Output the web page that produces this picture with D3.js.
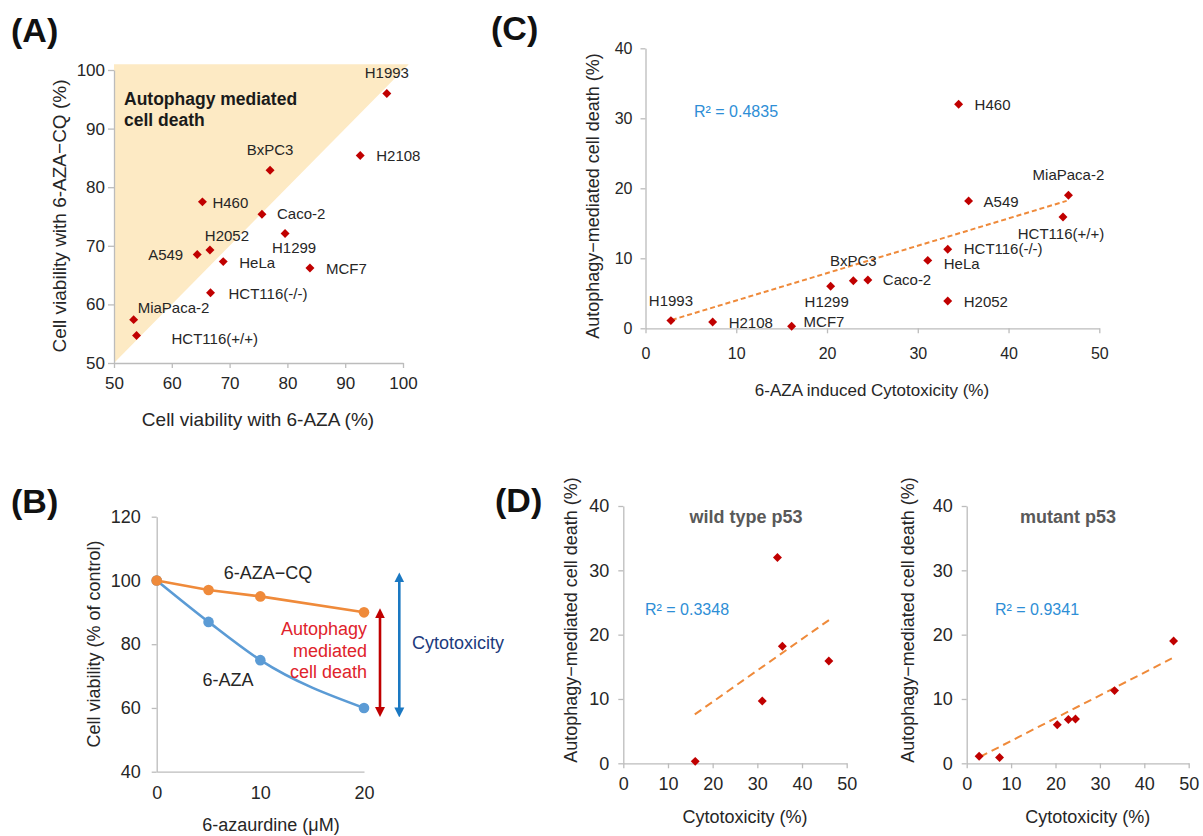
<!DOCTYPE html>
<html>
<head>
<meta charset="utf-8">
<script src="https://cdn.jsdelivr.net/npm/d3@7"></script>
<style>body{margin:0;background:#fff}</style>
</head>
<body>
<div id="fig"></div>
<script>
// ---- data ----
// (A) viability of each line with 6-AZA alone and with 6-AZA + CQ
var cellsA = ["H1993","H2108","BxPC3","H460","Caco-2","H1299","H2052","A549","HeLa","MCF7","HCT116(-/-)","MiaPaca-2","HCT116(+/+)"];
var viabAZA   = [97.2, 92.6, 77.0, 65.3, 75.6, 79.6, 66.6, 64.4, 68.9, 83.9, 66.7, 53.4, 53.9];
var viabAZACQ = [96.0, 85.4, 82.9, 77.5, 75.4, 72.1, 69.3, 68.5, 67.3, 66.2, 62.0, 57.4, 54.7];
var ticksA = [50, 60, 70, 80, 90, 100];

// (B) dose response
var doses = [0, 5, 10, 20];
var curveAZACQ = [100, 97, 95, 90];
var curveAZA   = [100, 87, 75, 60];
var ticksBx = [0, 10, 20];
var ticksBy = [40, 60, 80, 100, 120];

// (C) cytotoxicity vs autophagy-mediated death
var cellsC = ["H1993","H2108","MCF7","H1299","BxPC3","Caco-2","HeLa","HCT116(-/-)","H2052","A549","MiaPaca-2","HCT116(+/+)","H460"];
var cytotox   = [2.8, 7.4, 16.1, 20.4, 22.9, 24.5, 31.1, 33.3, 33.3, 35.6, 46.6, 46.0, 34.5];
var autoDeath = [1.1, 0.9, 0.3, 6.0, 6.8, 6.9, 9.7, 11.3, 3.9, 18.2, 19.0, 15.9, 32.0];
var trendCx = [2.9, 46.4];
var trendCy = [1.2, 18.2];
var r2C = "R² = 0.4835";
var ticksCx = [0, 10, 20, 30, 40, 50];
var ticksCy = [0, 10, 20, 30, 40];

// (D) split by p53 status
var wildType = ["MCF7","H460","A549","HeLa","HCT116(+/+)"];
var mutant   = ["H1993","H2108","H1299","BxPC3","Caco-2","HCT116(-/-)","MiaPaca-2"];
var trendWTx = [16.0, 46.1], trendWTy = [7.6, 22.3];
var trendMutx = [3.0, 46.2], trendMuty = [1.0, 16.3];
var r2WT = "R² = 0.3348", r2Mut = "R² = 0.9341";

// ---- styles / layout ----
var FONT = "'Liberation Sans', Arial, sans-serif";
var GREY = "#bcbcbc", TXT = "#262626", RED = "#c00000";
var ORANGE = "#ef8a3a", BLUE = "#5b9bd5", R2BLUE = "#2e8ed6";

// label placement: [dx, dy, anchor]
var labA = {
  "H1993":[0,-15,"middle"], "H2108":[16,5,"start"], "BxPC3":[0,-15,"middle"],
  "H460":[10,6,"start"], "Caco-2":[15,5,"start"], "H1299":[9,20,"middle"],
  "H2052":[17,-9,"middle"], "A549":[-14,5,"end"], "HeLa":[16,6,"start"],
  "MCF7":[16,6,"start"], "HCT116(-/-)":[18,6,"start"], "MiaPaca-2":[4,-7,"start"],
  "HCT116(+/+)":[35,9,"start"]
};
var labC = {
  "H1993":[0,-15,"middle"], "H2108":[16,6,"start"], "MCF7":[12,1,"start"],
  "H1299":[-4,21,"middle"], "BxPC3":[0,-15,"middle"], "Caco-2":[15,5,"start"],
  "HeLa":[16,9,"start"], "HCT116(-/-)":[16,5,"start"], "H2052":[16,6,"start"],
  "A549":[15,6,"start"], "MiaPaca-2":[0,-15,"middle"], "HCT116(+/+)":[-2,22,"middle"],
  "H460":[16,6,"start"]
};

var svg = d3.select("#fig").append("svg")
  .attr("width", 1203).attr("height", 836)
  .style("font-family", FONT);

svg.append("rect").attr("width", 1203).attr("height", 836).attr("fill", "#fff");

function styleAxis(g, fs) {
  g.attr("font-family", FONT).attr("font-size", fs);
  g.select(".domain").attr("stroke", GREY).attr("stroke-width", 1.3);
  g.selectAll(".tick line").attr("stroke", GREY).attr("stroke-width", 1.3);
  g.selectAll(".tick text").attr("fill", TXT);
}

function diamonds(g, xs, ys, x, y) {
  g.selectAll(null).data(xs).enter().append("path")
    .attr("d", d3.symbol().type(d3.symbolSquare).size(40))
    .attr("fill", RED)
    .attr("transform", function(d, i) {
      return "translate(" + x(d) + "," + y(ys[i]) + ") rotate(45)";
    });
}

function text(x, y, s, size, opts) {
  opts = opts || {};
  var t = svg.append("text").attr("x", x).attr("y", y).text(s)
    .attr("font-size", size).attr("fill", opts.fill || TXT)
    .attr("text-anchor", opts.anchor || "start");
  if (opts.bold) t.attr("font-weight", "bold");
  if (opts.rotate) t.attr("transform", "rotate(-90," + x + "," + y + ")");
  return t;
}

// panel letters
text(11, 42, "(A)", 34, {bold: true, fill: "#111"});
text(491, 40, "(C)", 34, {bold: true, fill: "#111"});
text(11, 513, "(B)", 34, {bold: true, fill: "#111"});
text(495, 512, "(D)", 34, {bold: true, fill: "#111"});

// ======== (A) ========
var xA = d3.scaleLinear().domain([50, 100]).range([114, 403]);
var yA = d3.scaleLinear().domain([50, 100]).range([363, 70]);
var gA = svg.append("g");

// shaded region above the identity line
var lo = xA.domain()[0], hi = xA.domain()[1] + 1;
gA.append("path")
  .attr("d", d3.line()([[xA(lo), yA(lo)], [xA(lo), yA(hi)], [xA(hi), yA(hi)]]) + "Z")
  .attr("fill", "#fdeac4");

gA.append("g").attr("transform", "translate(0,363)")
  .call(d3.axisBottom(xA).tickValues(ticksA).tickSize(5).tickSizeOuter(0).tickPadding(9))
  .call(styleAxis, 17);
gA.append("g").attr("transform", "translate(114,0)")
  .call(d3.axisLeft(yA).tickValues(ticksA).tickSize(6).tickSizeOuter(0).tickPadding(3))
  .call(styleAxis, 17);

text(124, 105, "Autophagy mediated", 17.5, {bold: true, fill: "#1a1a1a"});
text(124, 126, "cell death", 17.5, {bold: true, fill: "#1a1a1a"});

diamonds(gA, viabAZA, viabAZACQ, xA, yA);
cellsA.forEach(function(c, i) {
  var p = labA[c];
  text(xA(viabAZA[i]) + p[0], yA(viabAZACQ[i]) + p[1], c, 15, {anchor: p[2]});
});

text(258, 426, "Cell viability with 6-AZA (%)", 19, {anchor: "middle"});
text(66, 216, "Cell viability with 6-AZA\u2212CQ (%)", 19, {anchor: "middle", rotate: true});

// ======== (B) ========
var xB = d3.scaleLinear().domain([0, 20]).range([156.7, 364]);
var yB = d3.scaleLinear().domain([40, 120]).range([771.7, 516.7]);
var gB = svg.append("g");

gB.append("g").attr("transform", "translate(0,771.7)")
  .call(d3.axisBottom(xB).tickValues(ticksBx).tickSize(0).tickPadding(15))
  .call(styleAxis, 18);
gB.append("g").attr("transform", "translate(156.7,0)")
  .call(d3.axisLeft(yB).tickValues(ticksBy).tickSize(5).tickSizeOuter(0).tickPadding(11))
  .call(styleAxis, 18);

var seriesB = [
  {vals: curveAZA, color: BLUE, curve: d3.curveMonotoneX},
  {vals: curveAZACQ, color: ORANGE, curve: d3.curveLinear}
];
seriesB.forEach(function(s) {
  gB.append("path")
    .attr("d", d3.line().curve(s.curve)
      .x(function(d, i) { return xB(doses[i]); })
      .y(function(d) { return yB(d); })(s.vals))
    .attr("fill", "none").attr("stroke", s.color).attr("stroke-width", 2.6);
  gB.selectAll(null).data(s.vals).enter().append("circle")
    .attr("cx", function(d, i) { return xB(doses[i]); })
    .attr("cy", function(d) { return yB(d); })
    .attr("r", 5.3).attr("fill", s.color);
});

text(268, 579, "6-AZA\u2212CQ", 18, {anchor: "middle"});
text(228, 686, "6-AZA", 18, {anchor: "middle"});

// arrows
var defs = svg.append("defs");
[["arRed", RED], ["arBlue", "#1a78c2"]].forEach(function(m) {
  defs.append("marker").attr("id", m[0])
    .attr("viewBox", "0 0 10 10").attr("refX", 6).attr("refY", 5)
    .attr("markerUnits", "userSpaceOnUse")
    .attr("markerWidth", 10).attr("markerHeight", 11)
    .attr("orient", "auto-start-reverse")
    .append("path").attr("d", "M0,0L10,5L0,10Z").attr("fill", m[1]);
});
var last = doses.length - 1;
gB.append("line")
  .attr("x1", 380).attr("x2", 380)
  .attr("y1", yB(curveAZACQ[last]) + 0).attr("y2", yB(curveAZA[last]) + 5)
  .attr("stroke", RED).attr("stroke-width", 2.6)
  .attr("marker-start", "url(#arRed)").attr("marker-end", "url(#arRed)");
gB.append("line")
  .attr("x1", 399.3).attr("x2", 399.3)
  .attr("y1", yB(curveAZA[0]) - 4).attr("y2", yB(curveAZA[last]) + 5.5)
  .attr("stroke", "#1a78c2").attr("stroke-width", 2.6)
  .attr("marker-start", "url(#arBlue)").attr("marker-end", "url(#arBlue)");

text(367, 635, "Autophagy", 18, {anchor: "end", fill: "#e0232b"});
text(367, 656.5, "mediated", 18, {anchor: "end", fill: "#e0232b"});
text(367, 678, "cell death", 18, {anchor: "end", fill: "#e0232b"});
text(412, 649, "Cytotoxicity", 18, {fill: "#203a7c"});

text(100, 644, "Cell viability (% of control)", 18, {anchor: "middle", rotate: true});
text(271, 831, "6-azaurdine (\u03bcM)", 18, {anchor: "middle"});

// ======== (C) ========
var xC = d3.scaleLinear().domain([0, 50]).range([645.5, 1099.3]);
var yC = d3.scaleLinear().domain([0, 40]).range([328.3, 48.3]);
var gC = svg.append("g");

gC.append("g").attr("transform", "translate(0,328.3)")
  .call(d3.axisBottom(xC).tickValues(ticksCx).tickSize(5).tickSizeOuter(0).tickPadding(14))
  .call(styleAxis, 16);
gC.append("g").attr("transform", "translate(645.5,0)")
  .call(d3.axisLeft(yC).tickValues(ticksCy).tickSize(5).tickSizeOuter(0).tickPadding(8))
  .call(styleAxis, 16);

gC.append("line")
  .attr("x1", xC(trendCx[0])).attr("y1", yC(trendCy[0]))
  .attr("x2", xC(trendCx[1])).attr("y2", yC(trendCy[1]))
  .attr("stroke", ORANGE).attr("stroke-width", 2).attr("stroke-dasharray", "5,3");

diamonds(gC, cytotox, autoDeath, xC, yC);
cellsC.forEach(function(c, i) {
  var p = labC[c];
  text(xC(cytotox[i]) + p[0], yC(autoDeath[i]) + p[1], c, 15, {anchor: p[2]});
});

text(694, 117, r2C, 16, {fill: R2BLUE});
text(872, 396, "6-AZA induced Cytotoxicity (%)", 17, {anchor: "middle"});
text(599, 196, "Autophagy\u2212mediated cell death (%)", 18, {anchor: "middle", rotate: true});

// ======== (D) ========
function lookup(names) {
  return {
    x: names.map(function(n) { return cytotox[cellsC.indexOf(n)]; }),
    y: names.map(function(n) { return autoDeath[cellsC.indexOf(n)]; })
  };
}

var panelsD = [
  {x0: 623.3, x1: 846.7, names: wildType, tx: trendWTx, ty: trendWTy, r2: r2WT, r2x: 645, title: "wild type p53", titleX: 746, ylab: 577},
  {x0: 966.7, x1: 1188.7, names: mutant, tx: trendMutx, ty: trendMuty, r2: r2Mut, r2x: 995, title: "mutant p53", titleX: 1068, ylab: 914}
];

panelsD.forEach(function(p) {
  var x = d3.scaleLinear().domain([0, 50]).range([p.x0, p.x1]);
  var y = d3.scaleLinear().domain([0, 40]).range([763.3, 506]);
  var g = svg.append("g");
  g.append("g").attr("transform", "translate(0,763.3)")
    .call(d3.axisBottom(x).tickValues(ticksCx).tickSize(5).tickSizeOuter(0).tickPadding(9))
    .call(styleAxis, 18);
  g.append("g").attr("transform", "translate(" + p.x0 + ",0)")
    .call(d3.axisLeft(y).tickValues(ticksCy).tickSize(5).tickSizeOuter(0).tickPadding(9))
    .call(styleAxis, 18);

  g.append("line")
    .attr("x1", x(p.tx[0])).attr("y1", y(p.ty[0]))
    .attr("x2", x(p.tx[1])).attr("y2", y(p.ty[1]))
    .attr("stroke", ORANGE).attr("stroke-width", 2).attr("stroke-dasharray", "8,5");

  var pts = lookup(p.names);
  diamonds(g, pts.x, pts.y, x, y);

  text(p.r2x, 615, p.r2, 16, {fill: R2BLUE});
  text(p.titleX, 523, p.title, 18, {anchor: "middle", bold: true, fill: "#595959"});
  text((p.x0 + p.x1) / 2 + 10, 823, "Cytotoxicity (%)", 18, {anchor: "middle"});
  text(p.ylab, 620, "Autophagy\u2212mediated cell death (%)", 18, {anchor: "middle", rotate: true});
});
</script>
</body>
</html>
